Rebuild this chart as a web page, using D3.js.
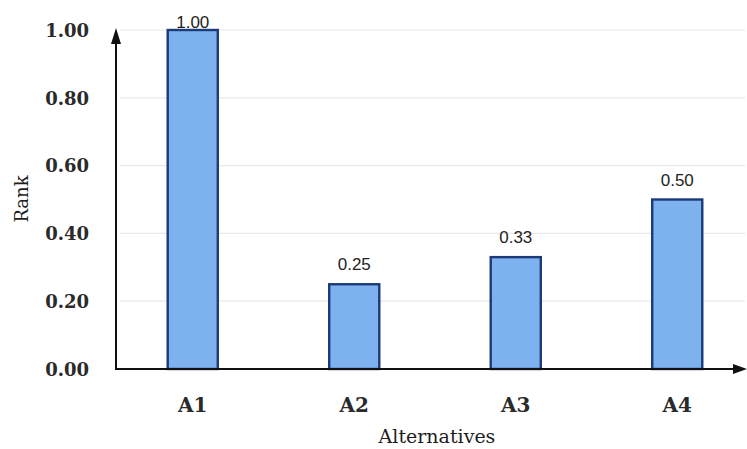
<!DOCTYPE html>
<html>
<head>
<meta charset="utf-8">
<script src="https://cdn.jsdelivr.net/npm/d3@7/dist/d3.min.js"></script>
<style>
html,body{margin:0;padding:0;background:#fff;}
svg{display:block;}
</style>
</head>
<body>
<svg id="chart" width="747" height="449"></svg>
<script>
const categories = ["A1", "A2", "A3", "A4"];
const values = [1.00, 0.25, 0.33, 0.50];
const yTicks = [0.00, 0.20, 0.40, 0.60, 0.80, 1.00];
const yTitle = "Rank";
const xTitle = "Alternatives";

const svg = d3.select("#chart");
const x0 = 116, yBase = 369, yTop = 30;

const x = d3.scaleBand().domain(categories).range([112, 758])
  .paddingInner(0.69).paddingOuter(0.345);
const y = d3.scaleLinear().domain([0, 1]).range([yBase, yTop]);

// gridlines
svg.append("g").selectAll("line").data(yTicks.filter(d => d > 0)).join("line")
  .attr("x1", x0 + 4).attr("x2", 745)
  .attr("y1", d => y(d)).attr("y2", d => y(d))
  .attr("stroke", "#e8e8e8").attr("stroke-width", 1.2);

// y axis tick labels
const yAxis = d3.axisLeft(y).tickValues(yTicks).tickFormat(d3.format(".2f")).tickSize(0).tickPadding(0);
const gy = svg.append("g").attr("transform", `translate(89,0)`).call(yAxis);
gy.select(".domain").remove();
gy.selectAll("text")
  .attr("font-family", "DejaVu Serif").attr("font-size", 18).attr("font-weight", "bold")
  .attr("fill", "#2a2a2a").attr("dy", "0.35em");

// bars
svg.append("g").selectAll("rect").data(values).join("rect")
  .attr("x", (d, i) => x(categories[i]))
  .attr("width", x.bandwidth())
  .attr("y", d => y(d))
  .attr("height", d => yBase - y(d))
  .attr("fill", "#7db2ee")
  .attr("stroke", "#1c3a78").attr("stroke-width", 2.4);

// value labels
svg.append("g").selectAll("text").data(values).join("text")
  .attr("x", (d, i) => x(categories[i]) + x.bandwidth() / 2)
  .attr("y", d => Math.max(y(d) - 14, yTop - 2))
  .attr("text-anchor", "middle")
  .attr("font-family", "Liberation Sans").attr("font-size", 17)
  .attr("fill", "#222")
  .text(d => d3.format(".2f")(d));

// x axis category labels
const xAxis = d3.axisBottom(x).tickSize(0).tickPadding(0);
const gx = svg.append("g").attr("transform", `translate(0,${yBase})`).call(xAxis);
gx.select(".domain").remove();
gx.selectAll("text")
  .attr("font-family", "DejaVu Serif").attr("font-size", 20).attr("font-weight", "bold")
  .attr("fill", "#2a2a2a").attr("dy", "0").attr("y", 43);

// axis lines with arrows
svg.append("line").attr("x1", x0).attr("x2", x0).attr("y1", yBase + 1).attr("y2", yTop + 6)
  .attr("stroke", "#111").attr("stroke-width", 2);
svg.append("path").attr("d", `M${x0},${yTop - 2} L${x0 - 5},${yTop + 14} L${x0 + 5},${yTop + 14} Z`).attr("fill", "#111");
svg.append("line").attr("x1", x0 - 1).attr("x2", 738).attr("y1", yBase).attr("y2", yBase)
  .attr("stroke", "#111").attr("stroke-width", 2.2);
svg.append("path").attr("d", `M747,${yBase} L733,${yBase - 5} L733,${yBase + 5} Z`).attr("fill", "#111");

// titles
svg.append("text").attr("transform", `translate(28,199) rotate(-90)`)
  .attr("text-anchor", "middle").attr("font-family", "DejaVu Serif").attr("font-size", 18)
  .attr("fill", "#1e1e1e").text(yTitle);
svg.append("text").attr("x", 437).attr("y", 443)
  .attr("text-anchor", "middle").attr("font-family", "DejaVu Serif").attr("font-size", 19)
  .attr("fill", "#1e1e1e").text(xTitle);
</script>
</body>
</html>
